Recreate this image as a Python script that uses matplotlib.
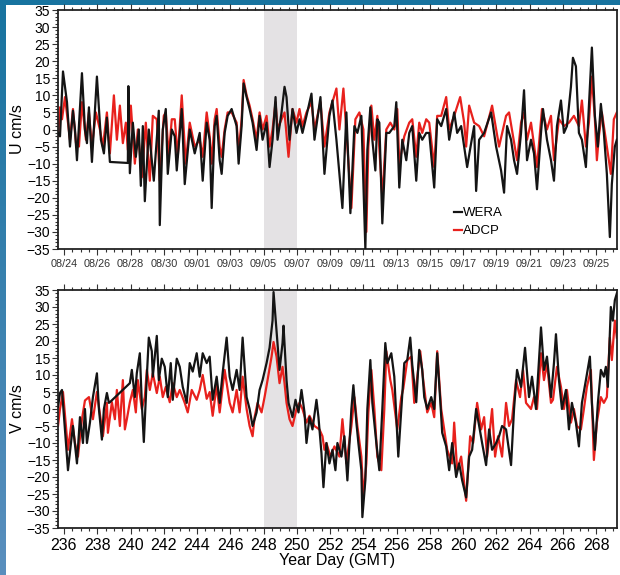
import numpy as np
import matplotlib
matplotlib.use("Agg")
import matplotlib.pyplot as plt
from matplotlib.ticker import MultipleLocator

plt.rcParams['font.family'] = ['Liberation Sans', 'DejaVu Sans']

# ---- data (year day, cm/s) ----
u_wera_day = [235.64, 235.76, 235.94, 236.18, 236.36, 236.54, 236.66, 236.78, 237.08, 237.26,
              237.38, 237.50, 237.68, 237.98, 238.22, 238.40, 238.58, 238.76, 239.84, 239.87,
              239.96, 240.14, 240.32, 240.50, 240.62, 240.74, 240.86, 241.10, 241.40, 241.70,
              241.76, 241.94, 242.12, 242.24, 242.48, 242.66, 242.78, 243.08, 243.26, 243.56,
              243.86, 244.16, 244.34, 244.58, 244.76, 244.88, 245.06, 245.18, 245.36, 245.48,
              245.66, 245.84, 246.08, 246.38, 246.50, 246.68, 246.80, 246.98, 247.16, 247.34,
              247.58, 247.76, 247.94, 248.18, 248.36, 248.54, 248.72, 248.84, 249.08, 249.26,
              249.38, 249.56, 249.74, 249.98, 250.16, 250.34, 250.58, 250.88, 251.06, 251.42,
              251.66, 251.96, 252.14, 252.38, 252.74, 252.98, 253.22, 253.46, 253.64, 253.88,
              254.12, 254.24, 254.42, 254.54, 254.72, 254.84, 254.96, 255.14, 255.38, 255.56,
              255.86, 255.98, 256.16, 256.34, 256.58, 256.76, 256.94, 257.18, 257.36, 257.54,
              257.78, 257.96, 258.26, 258.44, 258.68, 258.98, 259.16, 259.46, 259.64, 259.88,
              260.06, 260.24, 260.48, 260.66, 260.78, 260.96, 261.26, 261.68, 261.98, 262.28,
              262.46, 262.64, 262.88, 263.06, 263.24, 263.48, 263.66, 263.84, 264.08, 264.26,
              264.44, 264.68, 264.80, 265.04, 265.28, 265.46, 265.64, 265.88, 266.06, 266.24,
              266.48, 266.60, 266.78, 266.96, 267.14, 267.38, 267.50, 267.74, 267.92, 268.10,
              268.28, 268.46, 268.64, 268.82, 268.94, 269.12, 269.24]
u_wera = [-1, -2, 17, 8, -5, 5.5, 0, -9, 16.5, 0,
          -4, 6.5, -9.5, 15.5, -3, -7, 3.5, -9.5, -9.8, 12.7,
          -12.8, 2, -8, 0, -16.5, 1, -21, 0, -15, 5.5,
          -28, 0, 6, -13, 0, -2, -12, 6, -16, 0,
          -7, -1, -15, 2, -3, -23, 1, 4, -9, -13,
          -1, 4, 6, 1, -10, 1, 13.5, 9.5, 6, 2,
          -6, 4, -3, 2, -11, -3, 9.5, -3, 5, 12.5,
          9.5, -3, 6, -1, 3, -1, 4, 10.5, -3, 9.5,
          -13, 4, 8.5, -3, -23, 5, -24.5, 1, -1, 4,
          -35, -6, 6.5, -3, -12, 3, 2, -27.5, -1, -1,
          1, 8, -17, -3, -9, -1, 1, -15, -1, -3,
          -1, -1, -17, 3, 1, 6, -3, 5, -1, 1,
          -5, -11, -4, 1, -18, -3, -1, 5, -5, -12,
          -18.5, 1, -3, -9, -13, -1, 11.5, -9, -3, -7,
          -17.5, -1, 6, -3, -9, -15, 1, 8.5, -1, 1,
          12.5, 21, 18.5, -1, -3, -11, 1, 24, 4, -5,
          7.5, -1, -13, -31.5, -16, -5, -3]

u_adcp_day = [235.64, 235.76, 235.88, 236.06, 236.36, 236.54, 236.72, 236.90, 237.08, 237.32,
              237.50, 237.68, 237.92, 238.16, 238.34, 238.58, 238.76, 239.00, 239.18, 239.36,
              239.54, 239.72, 239.84, 240.02, 240.26, 240.44, 240.68, 240.92, 241.16, 241.34,
              241.58, 241.76, 242.00, 242.12, 242.30, 242.48, 242.66, 242.84, 243.08, 243.32,
              243.56, 243.86, 244.16, 244.34, 244.58, 244.76, 244.88, 245.06, 245.18, 245.36,
              245.48, 245.66, 245.84, 246.08, 246.38, 246.50, 246.68, 246.80, 246.98, 247.16,
              247.34, 247.58, 247.76, 247.94, 248.18, 248.36, 248.54, 248.72, 248.84, 249.08,
              249.26, 249.50, 249.74, 249.98, 250.16, 250.34, 250.58, 250.88, 251.06, 251.42,
              251.66, 251.96, 252.38, 252.56, 252.80, 253.04, 253.28, 253.52, 253.76, 254.00,
              254.18, 254.30, 254.48, 254.66, 254.84, 255.14, 255.38, 255.62, 255.86, 256.04,
              256.16, 256.46, 256.76, 256.94, 257.18, 257.36, 257.54, 257.78, 257.96, 258.26,
              258.44, 258.68, 258.98, 259.16, 259.46, 259.82, 260.06, 260.18, 260.36, 260.66,
              260.96, 261.26, 261.74, 262.16, 262.58, 262.76, 263.00, 263.24, 263.48, 263.66,
              263.84, 264.08, 264.44, 264.74, 265.04, 265.28, 265.46, 265.76, 266.06, 266.36,
              266.66, 266.96, 267.14, 267.38, 267.56, 267.74, 267.92, 268.04, 268.16, 268.34,
              268.58, 268.88, 269.06, 269.24]
u_adcp = [-2, 6.5, 3, 9.5, -3, 6, -4, -5, 8, -3,
          5, -5, 5, 0, -5, 5, -7, 10, -3, 7,
          -4, 2, -6, 7, -10, 0, -14, 2, -15, 4,
          3, -15, 4, 5, -8, 3, 3, -8, 10, -10,
          2, -5, -3, -8, 5, -2, -10, 3, 6, -5,
          -8, 0, 5, 5, 2, -7, 3, 14.5, 10, 7,
          3, -3, 5, 0, 4, -5, 0, 8, 0, 3,
          5, -8, 6, 2, 6, 1, 5, 8, 0, 8,
          -5, 5, 12, 0, 12, -5, -23, 3, 5, 0,
          -30, -5, 7, -3, 4, -20, 0, 2, 0, 6,
          -10, -2, 2, 3, -8, 2, -1, 3, 2, -11,
          4, 4, 9.5, 0, 4, 9.5, 2, -5, 7, 2,
          1, -2, 7, -5, 4, 5, -2, -9, 2, 5,
          -3, 2, -11, 6, 0, 4, -9, 3, 1, 2,
          4, 1, 8.5, -5, 2, 15.5, 3, -9, -2, 5,
          -3, -13, 3, 5]

v_wera_day = [235.64, 235.76, 235.88, 236.06, 236.24, 236.42, 236.54, 236.78, 236.96, 237.14,
              237.26, 237.38, 237.56, 237.74, 237.98, 238.10, 238.28, 238.40, 238.58, 238.70,
              238.76, 239.96, 240.08, 240.26, 240.38, 240.56, 240.68, 240.80, 240.98, 241.10,
              241.28, 241.34, 241.58, 241.70, 241.88, 242.06, 242.24, 242.42, 242.54, 242.78,
              242.96, 243.14, 243.38, 243.56, 243.74, 243.98, 244.16, 244.34, 244.58, 244.76,
              244.94, 245.18, 245.36, 245.54, 245.78, 245.96, 246.14, 246.38, 246.56, 246.74,
              246.98, 247.16, 247.34, 247.58, 247.76, 247.94, 248.18, 248.36, 248.54, 248.60,
              248.78, 248.96, 249.14, 249.20, 249.38, 249.50, 249.74, 249.92, 250.10, 250.28,
              250.46, 250.58, 250.76, 250.94, 251.18, 251.30, 251.48, 251.60, 251.78, 251.96,
              252.14, 252.32, 252.44, 252.68, 252.86, 253.04, 253.28, 253.40, 253.58, 253.70,
              253.88, 253.94, 254.12, 254.24, 254.42, 254.54, 254.78, 254.96, 255.14, 255.32,
              255.44, 255.68, 255.86, 256.10, 256.28, 256.46, 256.64, 256.82, 256.94, 257.18,
              257.36, 257.54, 257.66, 257.84, 258.08, 258.26, 258.44, 258.62, 258.74, 258.98,
              259.16, 259.34, 259.58, 259.76, 259.94, 260.18, 260.36, 260.54, 260.78, 260.96,
              261.14, 261.38, 261.56, 261.74, 261.98, 262.16, 262.34, 262.58, 262.88, 263.06,
              263.24, 263.48, 263.72, 263.96, 264.14, 264.38, 264.68, 264.86, 265.04, 265.28,
              265.46, 265.58, 265.76, 265.94, 266.18, 266.36, 266.54, 266.78, 266.96, 267.14,
              267.38, 267.62, 267.74, 267.92, 268.10, 268.28, 268.46, 268.58, 268.70, 268.88,
              269.00, 269.12, 269.24]
v_wera = [0.6, 4.7, 5.6, -6, -18, -10, -5, -16, -2.4, -10,
          0, -10, -4, 3.5, 10.5, 0, -9, 0, 4.7, 1.8,
          2, 7.6, 11.5, 3.5, 10.6, 16.4, 1.8, -9.7, 9.5, 21,
          17, 9.5, 21.5, 8.5, 14.8, 12.4, 3.5, 13.5, 2.7, 14.8,
          12.4, 6.5, 1.8, 13.5, 11, 16.4, 9.5, 16.4, 13.5, 15.4,
          2.7, 9.5, 1.8, 10.6, 21, 9.5, 5.6, 11.5, 5.6, 21,
          3.5, 0, -5, -1, 5.6, 8.5, 13.5, 18, 26, 34.4,
          23, 11.5, 19.4, 24.5, 8.5, 1.8, -2.4, 2.7, -1, 5.6,
          -1, -10, -2.4, -6, 2.7, -2.4, -13, -23, -10, -16,
          -12, -18, -10, -14, -8, -21, 0, 7, -4, -10,
          -18, -31.8, -21, 0, 14.4, 1.8, -10, -18, 0, 19.4,
          13.5, 16.4, 9.5, -14, 0, 13.5, 14.4, 21, 13, 2,
          17.4, 11.5, 3.5, 0, 3.5, 0, 16.4, 2.7, -7, -11,
          -18, -10, -20, -16, -21, -26, -14, -12, 0, -4.9,
          -10, -16.5, -6, -12, -10, -8, -5, -6, -16.5, 0,
          11.5, 6.5, 18, 3.5, 9.5, 0, 24, 11.5, 15.4, 3.5,
          13.5, 22, 8.5, 0, 5.6, -6, 1.8, -4, -11, 1.8,
          8.5, 15.4, 1.8, -12, 1.8, 11.5, 9.5, 12.4, 6.5, 30,
          26, 32, 34]

v_adcp_day = [235.64, 235.76, 235.94, 236.12, 236.24, 236.48, 236.66, 236.84, 237.08, 237.26,
              237.50, 237.74, 237.98, 238.34, 238.58, 238.64, 238.88, 239.06, 239.18, 239.36,
              239.54, 239.66, 239.78, 239.96, 240.14, 240.32, 240.44, 240.68, 240.86, 240.98,
              241.16, 241.34, 241.58, 241.76, 241.94, 242.12, 242.36, 242.54, 242.78, 242.96,
              243.26, 243.44, 243.68, 243.98, 244.16, 244.34, 244.58, 244.76, 244.94, 245.18,
              245.36, 245.66, 245.96, 246.14, 246.38, 246.56, 246.74, 246.98, 247.16, 247.34,
              247.46, 247.64, 247.88, 248.06, 248.24, 248.48, 248.60, 248.78, 248.96, 249.14,
              249.26, 249.38, 249.56, 249.74, 249.98, 250.16, 250.34, 250.58, 250.76, 251.06,
              251.36, 251.54, 251.66, 251.78, 252.02, 252.26, 252.56, 252.74, 252.98, 253.28,
              253.46, 253.64, 253.88, 254.00, 254.18, 254.30, 254.48, 254.66, 254.84, 255.08,
              255.26, 255.38, 255.62, 255.74, 256.04, 256.28, 256.40, 256.64, 256.88, 257.06,
              257.42, 257.60, 257.84, 258.08, 258.26, 258.44, 258.68, 258.86, 259.04, 259.34,
              259.46, 259.64, 259.88, 260.18, 260.42, 260.60, 260.84, 261.08, 261.26, 261.44,
              261.74, 261.92, 262.10, 262.34, 262.58, 262.76, 262.94, 263.18, 263.42, 263.60,
              263.78, 264.08, 264.26, 264.44, 264.68, 264.86, 265.04, 265.28, 265.40, 265.64,
              265.88, 266.06, 266.24, 266.48, 266.66, 266.84, 267.08, 267.26, 267.44, 267.68,
              267.86, 268.04, 268.28, 268.46, 268.64, 268.82, 268.94, 269.12, 269.24]
v_adcp = [-5, 0, 5, -5, -12, -3, -10, -14, -3, 2.5,
          3.5, -3, 5, -8, 1.8, -7, 2, -3, 5.6, -5,
          8.5, -6, -3, 2, 5.6, -1, 8.5, 0, 3.5, 11.5,
          5.6, 10.5, 4.7, 9.5, 3.5, 6.5, 2, 7.6, 3.5, 5.6,
          1.8, -1, 5.6, 2.7, 5.6, 10, 3, 5, -2, 7,
          -1, 11.5, 1.8, -1, 5.6, -1, 9.5, 0, -5, -8,
          -2.4, 1.8, -1, 3.5, 8.5, 15.4, 19.7, 15.4, 7.6, 12.4,
          7.6, 1.8, -3, -5, 0, 1.8, 0, -4, -2, -5,
          -6, -8, -12, -10, -14, -11, -14, -3, -16, -5,
          3.5, -5, -14, -26, -16, -1, 11.5, 0, -14, -18,
          0, 17, 8.5, 5.6, -6, 3.5, 6, 14.4, 15.4, 1.8,
          17, 8.5, -1, 1.8, -2.4, 17, 0, -6, -12, -16,
          -4, -18, -14, -27, -8, -10, 1.8, -6, -2.4, -14,
          0, -14, -8, -14, 1.8, -5, -3, 8.5, 3.5, 11.5,
          1.8, 0, 3.5, 0, 16.4, 8.5, 13.5, 1.8, 2.7, 12.4,
          6.5, 0, 5.6, -4, 0, -5, -6, 0, 6.5, 11.5,
          -15, -4, 3.5, 1.8, 3.5, 21, 14.4, 26, 21]

date_ticks = list(range(236, 269, 2))
date_labels = ['08/24', '08/26', '08/28', '08/30', '09/01', '09/03', '09/05', '09/07',
               '09/09', '09/11', '09/13', '09/15', '09/17', '09/19', '09/21', '09/23', '09/25']
shade_start, shade_end = 248, 250

W, H = 620, 575
fig = plt.figure(figsize=(W / 100, H / 100), dpi=100, facecolor='white')

# blue frame strips of the slide background
bg = fig.add_axes([0, 0, 1, 1], zorder=-10)
bg.set_xlim(0, 1)
bg.set_ylim(0, 1)
bg.axis('off')
grad = np.linspace(0, 1, 256).reshape(-1, 1)
cmap = matplotlib.colors.LinearSegmentedColormap.from_list('bl', ['#5a8fbe', '#17739f'])
bg.imshow(grad, cmap=cmap, extent=[0, 6 / W, 0, 1], aspect='auto', origin='lower')
bg.add_patch(plt.Rectangle((0, 1 - 5 / H), 1, 5 / H, color='#17739f', lw=0))

left = 58 / W
width = (617 - 58) / W
ax1 = fig.add_axes([left, 1 - 249 / H, width, (249 - 10) / H])
ax2 = fig.add_axes([left, 1 - 528 / H, width, (528 - 290) / H])

red = '#e8211d'
blk = '#141414'

for ax, dw, w, da, a, lab in [(ax1, u_wera_day, u_wera, u_adcp_day, u_adcp, 'U cm/s'),
                              (ax2, v_wera_day, v_wera, v_adcp_day, v_adcp, 'V cm/s')]:
    ax.axvspan(shade_start, shade_end, color='#e4e2e4', lw=0, zorder=0)
    ax.plot(da, a, color=red, lw=1.6, label='ADCP', zorder=2)
    ax.plot(dw, w, color=blk, lw=1.6, label='WERA', zorder=3)
    ax.set_xlim(235.64, 269.25)
    ax.set_ylim(-35, 35)
    ax.yaxis.set_major_locator(MultipleLocator(5))
    ax.yaxis.set_minor_locator(MultipleLocator(1))
    ax.xaxis.set_major_locator(MultipleLocator(2))
    ax.xaxis.set_minor_locator(MultipleLocator(0.5))
    ax.tick_params(axis='both', which='both', direction='out', top=True, right=False,
                   color='#333333', width=0.8)
    ax.tick_params(which='major', length=4)
    ax.tick_params(which='minor', length=2)
    ax.tick_params(axis='y', labelsize=10, pad=1.5)
    for s in ax.spines.values():
        s.set_linewidth(1.3)
        s.set_color('#222222')
    ax.set_ylabel(lab, fontsize=11.5, labelpad=1)

ax1.set_xticks(date_ticks)
ax1.set_xticklabels(date_labels, fontsize=7.8, color='#333333')
ax1.tick_params(axis='x', pad=3)
ax2.set_xticks(date_ticks)
ax2.set_xticklabels([str(d) for d in date_ticks], fontsize=11.5)
ax2.tick_params(axis='x', pad=3)
ax2.set_xlabel('Year Day (GMT)', fontsize=11.5, labelpad=0)

h, l = ax1.get_legend_handles_labels()
ax1.legend(h[::-1], l[::-1], loc='lower left', bbox_to_anchor=(0.695, 0.015), frameon=False,
           fontsize=9.5, handlelength=0.55, handletextpad=0.1, labelspacing=0.45,
           borderaxespad=0.2)

fig.savefig('out.png', dpi=100, facecolor='white')
